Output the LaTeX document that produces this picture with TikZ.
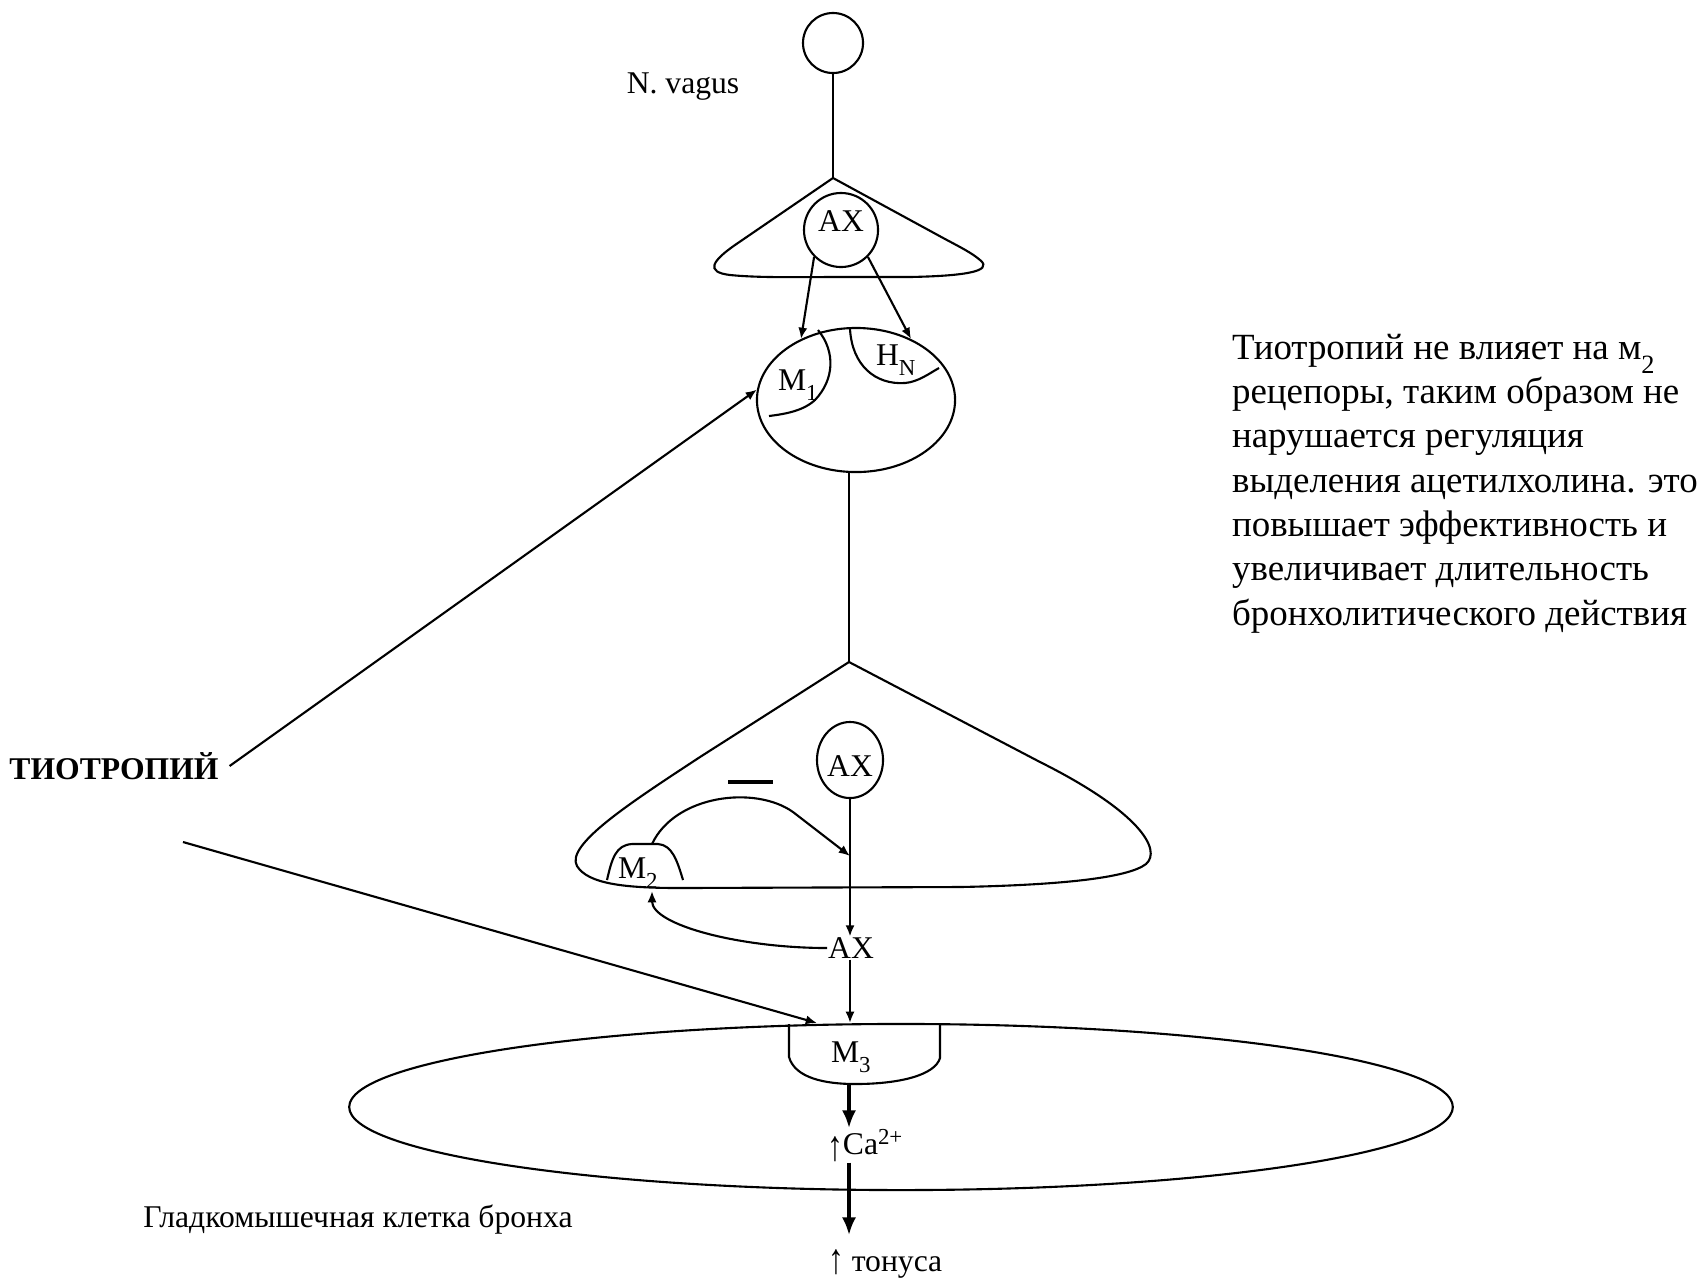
\documentclass[tikz,border=0pt]{standalone}
\usepackage{fontspec}
\setmainfont{Liberation Serif}
\usetikzlibrary{arrows.meta,shapes.geometric}
\newcommand{\lowsub}[1]{\raisebox{-3pt}{\fontsize{6.5}{6.5}\selectfont #1}}
\newcommand{\highsup}[1]{\raisebox{2.8pt}{\fontsize{6.5}{6.5}\selectfont #1}}
\newcommand{\uparr}[1]{\raisebox{#1}{\scalebox{1}[1.35]{↑}}}
\begin{document}
\begin{tikzpicture}[x=0.01cm,y=-0.01cm,line width=0.6pt,
  lbl/.style={font=\fontsize{9}{10.8}\selectfont, inner sep=0pt},
  arr/.style={-{Latex[length=3.2pt,width=2.6pt]}},
  tarr/.style={line width=0.9pt,-{Latex[length=5pt,width=4pt]}},
  ring/.style={draw, circle, inner sep=0pt},
  oval/.style={draw, ellipse, inner sep=0pt},
]
\useasboundingbox (0,0) rectangle (1701,1281);

% neuron body and N. vagus
\node[ring, minimum size=0.6cm] (soma) at (833,43) {};
\node[lbl] (vagus) at (683,87) {N. vagus};
\coordinate (apex1) at (833,178);
\draw (soma.south) -- (apex1);

% upper terminal
\draw (apex1) -- (735,245) .. controls (712,261) and (705,272) .. (730,275)
  .. controls (760,278) and (800,277) .. (840,277) -- (910,277)
  .. controls (960,276) and (995,272) .. (980,260)
  .. controls (972,253) and (960,247) .. (945,239) -- cycle;
\node[ring, minimum size=0.74cm] (ax1) at (841,230) {};
\node[lbl] (ax1t) at (841,221) {АХ};

% ganglion cell
\node[oval, minimum width=1.98cm, minimum height=1.44cm] (cell1) at (856,400) {};
\draw[arr] (ax1.225) -- (cell1.132);
\draw[arr] (ax1.-45) -- (cell1.48);
\draw (818,330) .. controls (836,352) and (834,380) .. (815,400)
  .. controls (803,411) and (785,414) .. (769,416);
\draw (850,329) .. controls (852,365) and (875,385) .. (905,383)
  .. controls (918,382) and (930,373) .. (939,368);
\node[lbl, anchor=base west] (m1) at (777,390) {М\lowsub{1}};
\node[lbl, anchor=base west] (hn) at (875,365) {Н\lowsub{N}};

% tiotropium
\node[font=\bfseries\fontsize{9}{10.8}\selectfont, inner sep=0pt, inner xsep=0.1cm] (tio) at (114,766) {ТИОТРОПИЙ};
\draw[arr] (tio.east) -- (cell1.174);

% postganglionic fibre
\coordinate (apex2) at (849,662);
\draw (cell1.south -| apex2) -- (apex2);

% lower terminal
\draw (apex2) -- (700,757) .. controls (630,803) and (565,845) .. (577,866)
  .. controls (588,884) and (625,888) .. (680,888) -- (960,887)
  .. controls (1060,885) and (1128,878) .. (1146,864)
  .. controls (1162,850) and (1140,812) .. (1040,762) -- cycle;
\node[oval, minimum width=0.66cm, minimum height=0.76cm] (ax2) at (850,760) {};
\node[lbl] (ax2t) at (850,766) {АХ};
\draw[line width=1.4pt] (728,782) -- (773,782);
\draw (607,880) .. controls (612,858) and (616,845) .. (632,844) -- (658,844)
  .. controls (672,845) and (677,860) .. (683,880);
\node[lbl, anchor=base west] (m2) at (617,878) {М\lowsub{2}};
\coordinate (m2top) at (652,844);
\coordinate (m2bot) at (652,891);
\coordinate (junc) at (850,856);
\draw[arr] (m2top) .. controls (675,795) and (755,785) .. (793,812) -- (junc);

% released acetylcholine
\node[lbl] (ax3) at (851,948) {АХ};
\draw[arr] (ax2.south) -- (ax2.south |- ax3.north);
\draw[arr] (ax3.west) .. controls (740,948) and (652,925) .. (m2bot);

% smooth muscle cell
\node[oval, minimum width=11.03cm, minimum height=1.66cm] (smc) at (901,1107) {};
\draw[arr] (ax2.south |- ax3.south) -- (ax2.south |- smc.north);
\coordinate (tio2) at (183,842);
\coordinate (m3in) at (817,1023);
\draw[arr] (tio2) -- (m3in);
\draw (789,1024) -- (789,1057) .. controls (795,1078) and (825,1084) .. (855,1084)
  .. controls (900,1084) and (935,1075) .. (940,1058) -- (940,1024);
\node[lbl, anchor=base west] (m3) at (830,1062) {М\lowsub{3}};
\coordinate (cupb) at (849,1084);
\node[lbl, anchor=base west] (ca) at (826,1154) {\uparr{-1.8pt}Ca\highsup{2+}};
\draw[tarr] (cupb) -- (cupb |- ca.north);
\coordinate (tonend) at (849,1235);
\draw[tarr] (cupb |- ca.south) -- (tonend);
\node[lbl, anchor=base west] (tonus) at (827,1271) {\uparr{-0.8pt} тонуса};
\node[lbl] (glad) at (358,1220) {Гладкомышечная клетка бронха};

% note
\node[anchor=north west, align=left, inner sep=0pt, font=\fontsize{10.5}{12.6}\selectfont] (note) at (1231,333)
 {Тиотропий не влияет на м\raisebox{-4pt}{\fontsize{7.5}{7.5}\selectfont 2}\\
  рецепоры, таким образом не\\
  нарушается регуляция\\
  выделения ацетилхолина. это\\
  повышает эффективность и\\
  увеличивает длительность\\
  бронхолитического действия};
\end{tikzpicture}
\end{document}
